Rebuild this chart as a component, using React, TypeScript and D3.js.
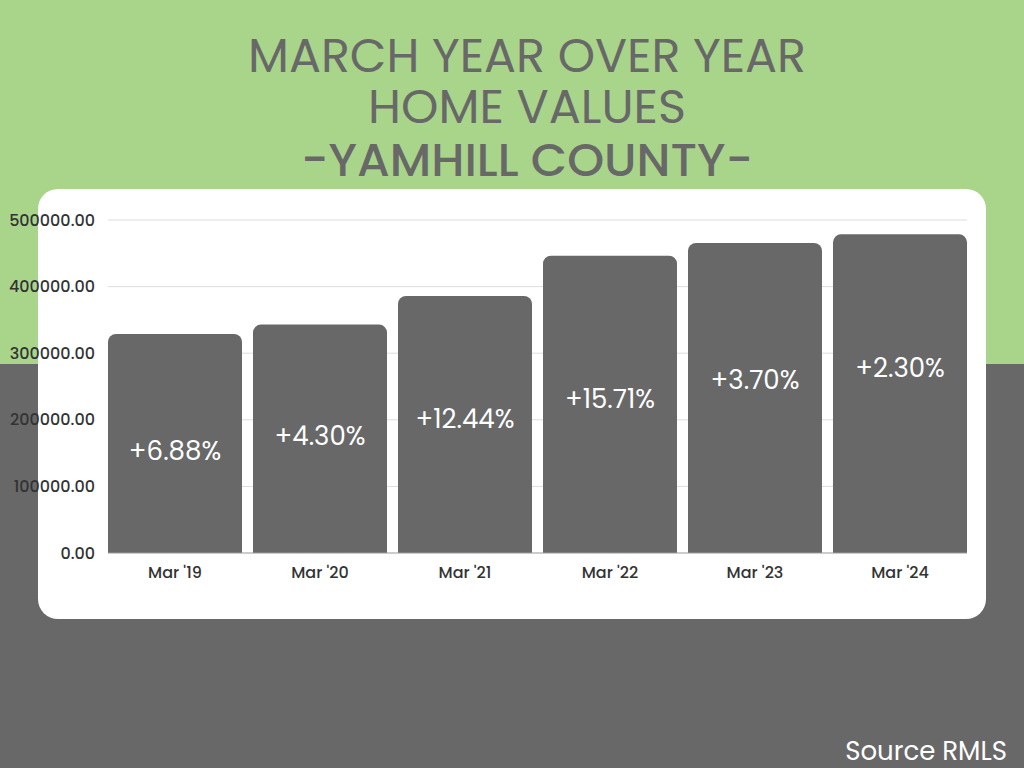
import React from "react";
import * as d3 from "d3";

const categories = ["Mar '19", "Mar '20", "Mar '21", "Mar '22", "Mar '23", "Mar '24"];
const values = [328800, 343000, 385900, 446400, 465500, 478500];
const changeLabels = ["+6.88%", "+4.30%", "+12.44%", "+15.71%", "+3.70%", "+2.30%"];
// value level (in axis units) where each change label sits inside its bar
const labelLevels = [153000, 176000, 201000, 231000, 260000, 278000];
const yTicks = [0, 100000, 200000, 300000, 400000, 500000];
const titleLines = ["MARCH YEAR OVER YEAR", "HOME VALUES"];
const subtitle = "-YAMHILL COUNTY-";
const source = "Source RMLS";

const W = 1024;
const H = 768;
const FONT = "Poppins, 'Open Sans', Lato, sans-serif";
const GREEN = "#a9d58b";
const GRAY = "#686868";

export default function App() {
  const x = d3
    .scaleBand<string>()
    .domain(categories)
    .range([102.5, 972.5])
    .paddingInner(11 / 145)
    .paddingOuter(11 / 290);
  const y = d3.scaleLinear().domain([0, 500000]).range([553, 220]);
  const bw = x.bandwidth();
  const r = 8;

  const barPath = (x0: number, y0: number, w: number, y1: number) => {
    const p = d3.path();
    p.moveTo(x0, y1);
    p.lineTo(x0, y0 + r);
    p.arcTo(x0, y0, x0 + r, y0, r);
    p.lineTo(x0 + w - r, y0);
    p.arcTo(x0 + w, y0, x0 + w, y0 + r, r);
    p.lineTo(x0 + w, y1);
    p.closePath();
    return p.toString();
  };

  return (
    <svg width={W} height={H} style={{ position: "absolute", left: 0, top: 0 }}>
      <rect x={0} y={0} width={W} height={364} fill={GREEN} />
      <rect x={0} y={364} width={W} height={H - 364} fill={GRAY} />
      <rect x={38} y={189} width={948} height={430} rx={20} ry={20} fill="#ffffff" />

      <text textAnchor="middle" fontFamily={FONT} fontSize={46} fill={GRAY}>
        {titleLines.map((t, i) => (
          <tspan
            key={t}
            x={527}
            y={72 + i * 51}
            textLength={i === 0 ? 558 : 318}
            lengthAdjust="spacingAndGlyphs"
          >
            {t}
          </tspan>
        ))}
        <tspan
          x={527}
          y={176}
          fontWeight={500}
          textLength={452}
          lengthAdjust="spacingAndGlyphs"
        >
          {subtitle}
        </tspan>
      </text>

      {yTicks.map((t) => (
        <g key={t}>
          {t > 0 && (
            <line x1={108} x2={967} y1={y(t)} y2={y(t)} stroke="#dddddd" strokeWidth={1} />
          )}
          <text
            x={95}
            y={y(t)}
            dy="0.35em"
            textAnchor="end"
            fontFamily={FONT}
            fontSize={16}
            fontWeight={500}
            fill="#333333"
          >
            {d3.format(".2f")(t)}
          </text>
        </g>
      ))}

      {categories.map((c, i) => {
        const x0 = x(c)!;
        return (
          <g key={c}>
            <path d={barPath(x0, y(values[i]), bw, y(0))} fill={GRAY} />
            <text
              x={x0 + bw / 2}
              y={y(labelLevels[i])}
              dy="0.35em"
              textAnchor="middle"
              fontFamily={FONT}
              fontSize={26}
              fill="#ffffff"
            >
              {changeLabels[i]}
            </text>
            <text
              x={x0 + bw / 2}
              y={578}
              textAnchor="middle"
              fontFamily={FONT}
              fontSize={16}
              fontWeight={500}
              fill="#333333"
            >
              {c}
            </text>
          </g>
        );
      })}
      <line x1={108} x2={967} y1={y(0)} y2={y(0)} stroke="#999999" strokeWidth={1} />

      <text
        x={1007}
        y={760}
        textAnchor="end"
        fontFamily={FONT}
        fontSize={26}
        fill="#ffffff"
      >
        {source}
      </text>
    </svg>
  );
}
